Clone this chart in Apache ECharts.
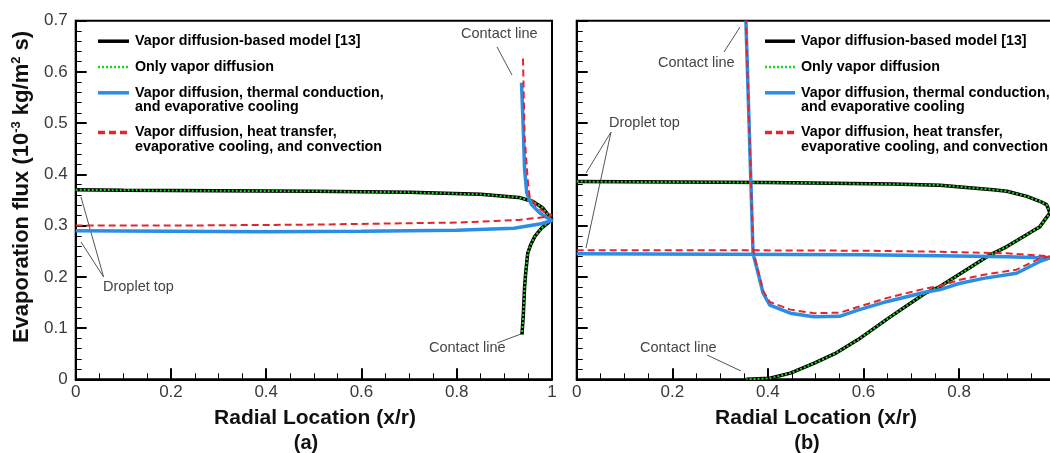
<!DOCTYPE html>
<html lang="en">
<head>
<meta charset="UTF-8">
<title>Evaporation flux</title>
<script src="https://cdn.jsdelivr.net/npm/echarts@6.0.0/dist/echarts.min.js"></script>
<style>html,body{margin:0;padding:0;background:#fff}</style>
</head>
<body>
<div id="main" style="width:1050px;height:453px;"></div>
<script>
var aModel = [[0, 0.370], [0.1, 0.369], [0.3, 0.368], [0.5, 0.367], [0.7, 0.365], [0.85, 0.361], [0.93, 0.355],
    [0.96, 0.347], [0.98, 0.335], [0.991, 0.322], [1.0, 0.312], [0.99, 0.304], [0.978, 0.295], [0.964, 0.279],
    [0.955, 0.262], [0.949, 0.246], [0.945, 0.21], [0.9425, 0.181], [0.94, 0.13], [0.937, 0.087]];
var aOnlyDiff = aModel; // both curves lie on top of each other
var aConduction = [[0, 0.290], [0.2, 0.289], [0.4, 0.288], [0.6, 0.289], [0.8, 0.291], [0.92, 0.295], [0.974, 0.303],
    [1.0, 0.310], [0.985, 0.318], [0.974, 0.325], [0.957, 0.341], [0.947, 0.364], [0.9425, 0.409], [0.939, 0.507],
    [0.936, 0.579]];
var aConvection = [[0, 0.300], [0.2, 0.300], [0.5, 0.302], [0.8, 0.306], [0.93, 0.311], [0.988, 0.317], [1.0, 0.320],
    [0.981, 0.328], [0.967, 0.338], [0.953, 0.357], [0.949, 0.39], [0.9425, 0.474], [0.939, 0.631]];

// panel (b)
var bModel = [[0, 0.386], [0.2, 0.385], [0.4, 0.384], [0.66, 0.381], [0.76, 0.379], [0.871, 0.370], [0.9, 0.367],
    [0.942, 0.357], [0.97, 0.347], [0.983, 0.341], [0.99, 0.325], [0.969, 0.298], [0.9, 0.259], [0.865, 0.243],
    [0.76, 0.181], [0.729, 0.168], [0.65, 0.118], [0.588, 0.077], [0.54, 0.050], [0.496, 0.031], [0.447, 0.012],
    [0.404, 0.002], [0.355, 0.0]];
var bOnlyDiff = bModel;
var bConduction = [[0, 0.245], [0.3, 0.244], [0.6, 0.243], [0.76, 0.241], [0.9, 0.239], [0.99, 0.237], [0.969, 0.230],
    [0.92, 0.207], [0.851, 0.197], [0.80, 0.187], [0.76, 0.175], [0.729, 0.170], [0.65, 0.152], [0.588, 0.135],
    [0.55, 0.123], [0.496, 0.122], [0.447, 0.129], [0.404, 0.145], [0.39, 0.168], [0.376, 0.220], [0.369, 0.245],
    [0.354, 0.70]];
var bConvection = [[0, 0.252], [0.3, 0.252], [0.6, 0.251], [0.76, 0.249], [0.9, 0.246], [0.99, 0.240], [0.969, 0.236],
    [0.92, 0.214], [0.851, 0.204], [0.80, 0.194], [0.76, 0.182], [0.729, 0.177], [0.65, 0.159], [0.588, 0.141],
    [0.55, 0.130], [0.496, 0.129], [0.447, 0.136], [0.404, 0.151], [0.39, 0.173], [0.376, 0.225], [0.369, 0.252],
    [0.354, 0.70]];

var legendNames = [
    ['Vapor diffusion-based model [13]'],
    ['Only vapor diffusion'],
    ['Vapor diffusion, thermal conduction,', 'and evaporative cooling'],
    ['Vapor diffusion, heat transfer,', 'evaporative cooling, and convection']
];
var panelLabels = ['(a)', '(b)'];

var FONT = '"Liberation Sans", Arial, sans-serif';
var styles = [
    { color: '#000000', width: 3.5, type: 'solid' },
    { color: '#22d322', width: 2, type: [2, 2] },
    { color: '#2a8de6', width: 3.5, type: 'solid' },
    { color: '#e3262b', width: 2, type: [7, 4] }
];

var chartDom = document.getElementById('main');
var myChart = echarts.init(chartDom);

function xAx(i) {
    return {
        type: 'value', gridIndex: i, min: 0, max: 1, interval: 0.2,
        axisLine: { lineStyle: { color: '#000', width: 2 } },
        axisTick: { inside: true, length: 11, lineStyle: { color: '#000', width: 2 } },
        minorTick: { show: true, splitNumber: 4, length: 6, lineStyle: { color: '#000', width: 1 } },
        splitLine: { show: false },
        axisLabel: { color: '#3a3a3a', fontSize: 17, fontFamily: FONT, margin: 5 }
    };
}
function yAx(i, labels) {
    return {
        type: 'value', gridIndex: i, min: 0, max: 0.7, interval: 0.1,
        axisLine: { lineStyle: { color: '#000', width: 2 } },
        axisTick: { inside: true, length: 11, lineStyle: { color: '#000', width: 2 } },
        minorTick: { show: true, splitNumber: 5, length: 6, lineStyle: { color: '#000', width: 1 } },
        splitLine: { show: false },
        axisLabel: { show: labels, color: '#3a3a3a', fontSize: 17, fontFamily: FONT, margin: 8 }
    };
}

var series = [];
[[aModel, aOnlyDiff, aConduction, aConvection], [bModel, bOnlyDiff, bConduction, bConvection]].forEach(function (set, p) {
    set.forEach(function (d, k) {
        series.push({
            type: 'line', xAxisIndex: p, yAxisIndex: p, data: d, showSymbol: false,
            lineStyle: { color: styles[k].color, width: styles[k].width, type: styles[k].type },
            z: 2 + k, silent: true
        });
    });
});

var graphics = [];
function legendAt(x1, x2, tx) {
    var rows = [41.2, 67, 92.8, 132.5];
    legendNames.forEach(function (lines, k) {
        graphics.push({
            type: 'line', shape: { x1: x1, y1: rows[k], x2: x2, y2: rows[k] },
            style: { stroke: styles[k].color, lineWidth: k == 1 ? 2.5 : 3.5, lineDash: k == 1 ? [2, 2] : (k == 3 ? [7, 4] : null) }
        });
        lines.forEach(function (t, j) {
            graphics.push({
                type: 'text', x: tx, y: rows[k] + j * 14.6,
                style: { text: t, font: 'bold 14.3px ' + FONT, fill: '#000', verticalAlign: 'middle' }
            });
        });
    });
}
legendAt(98, 129, 135);
legendAt(765, 795, 801);

function note(t, x, y, leaders) {
    graphics.push({ type: 'text', x: x, y: y, style: { text: t, font: '14.5px ' + FONT, fill: '#444', verticalAlign: 'middle' } });
    leaders.forEach(function (l) {
        graphics.push({ type: 'line', shape: { x1: l[0], y1: l[1], x2: l[2], y2: l[3] }, style: { stroke: '#555', lineWidth: 1 } });
    });
}
note('Contact line', 461, 34, [[497, 47, 512, 75]]);
note('Contact line', 429, 348, [[521, 334, 497, 343]]);
note('Droplet top', 103, 287, [[103.6, 277, 81, 197], [103.6, 277, 81, 242]]);
note('Contact line', 658, 63, [[724, 52, 740, 27]]);
note('Droplet top', 609, 123, [[611, 132, 586, 173], [611, 132, 586, 248]]);
note('Contact line', 640, 348, [[707, 355, 741, 371]]);

// axis titles
[315, 816].forEach(function (cx, p) {
    graphics.push({ type: 'text', x: cx, y: 418.3, style: { text: 'Radial Location (x/r)', font: 'bold 21px ' + FONT, fill: '#111', align: 'center', verticalAlign: 'middle' } });
    graphics.push({ type: 'text', x: cx - 9, y: 443, style: { text: panelLabels[p], font: 'bold 20px ' + FONT, fill: '#111', align: 'center', verticalAlign: 'middle' } });
});
graphics.push({
    type: 'text', x: 22, y: 187, rotation: Math.PI / 2,
    style: {
        text: '{a|Evaporation flux (10}{s|-3}{a| kg/m}{s|2}{a| s)}',
        align: 'center', verticalAlign: 'middle',
        rich: {
            a: { font: 'bold 22px ' + FONT, fill: '#111', lineHeight: 24 },
            s: { font: 'bold 13px ' + FONT, fill: '#111', verticalAlign: 'top', lineHeight: 13 }
        }
    }
});

var option = {
    animation: false,
    backgroundColor: '#fff',
    grid: [
        { left: 75.7, top: 20.7, width: 476.3, height: 358.6, show: true, borderColor: '#000', borderWidth: 2, outerBoundsMode: 'none', containLabel: false },
        { left: 576.7, top: 20.7, width: 478, height: 358.6, show: true, borderColor: '#000', borderWidth: 2, outerBoundsMode: 'none', containLabel: false }
    ],
    xAxis: [xAx(0), xAx(1)],
    yAxis: [yAx(0, true), yAx(1, false)],
    series: series,
    graphic: graphics
};
myChart.setOption(option);
</script>
</body>
</html>
